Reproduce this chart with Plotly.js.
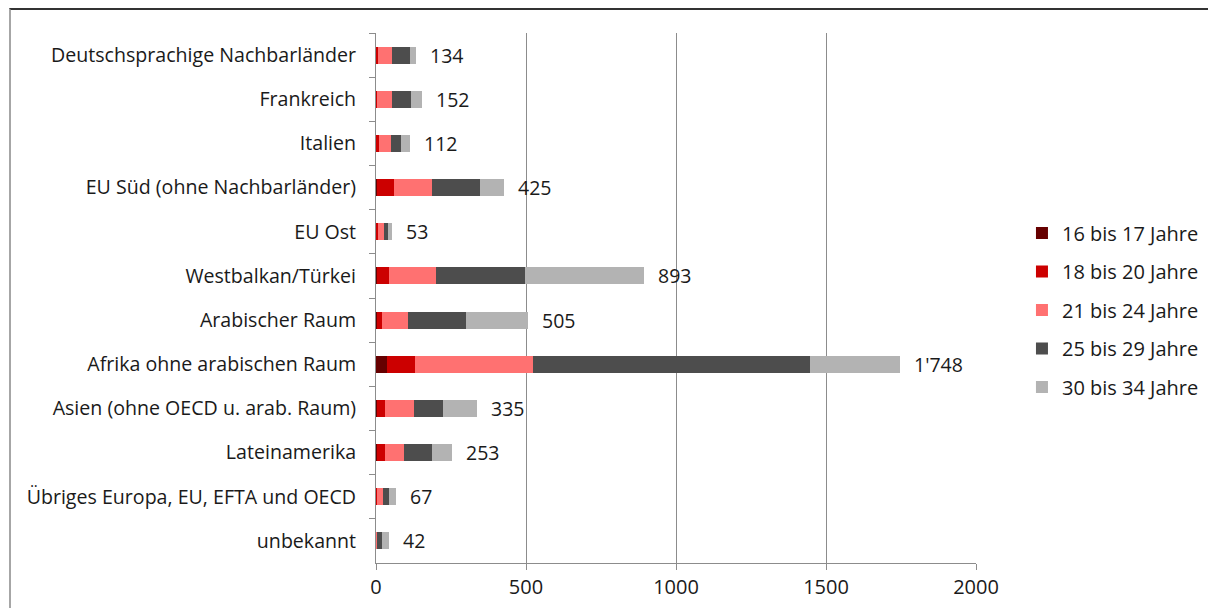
<!DOCTYPE html>
<html>
<head>
<meta charset="utf-8">
<script src="https://cdn.plot.ly/plotly-3.0.1.min.js"></script>
<style>
html,body{margin:0;padding:0;background:#fff;}
#wrap{position:relative;width:1208px;height:608px;overflow:hidden;}
#frame{position:absolute;left:9px;top:8px;width:1300px;height:700px;border-top:2px solid #333;border-left:2px solid #a6a6a6;box-sizing:border-box;pointer-events:none;}
#chart{position:absolute;left:0;top:0;width:1208px;height:608px;}
</style>
</head>
<body>
<div id="wrap">
<div id="chart"></div>
<div id="frame"></div>
</div>
<script>
const categories = [
  "Deutschsprachige Nachbarländer",
  "Frankreich",
  "Italien",
  "EU Süd (ohne Nachbarländer)",
  "EU Ost",
  "Westbalkan/Türkei",
  "Arabischer Raum",
  "Afrika ohne arabischen Raum",
  "Asien (ohne OECD u. arab. Raum)",
  "Lateinamerika",
  "Übriges Europa, EU, EFTA und OECD",
  "unbekannt"
];
const seriesNames = ["16 bis 17 Jahre","18 bis 20 Jahre","21 bis 24 Jahre","25 bis 29 Jahre","30 bis 34 Jahre"];
const age16_17 = [0, 0, 1, 3, 1, 4, 3, 35, 2, 2, 0, 0];
const age18_20 = [5, 3, 10, 57, 7, 39, 17, 95, 29, 29, 3, 1];
const age21_24 = [48, 50, 40, 127, 18, 157, 85, 393, 94, 63, 19, 2];
const age25_29 = [61, 65, 32, 160, 13, 295, 196, 925, 97, 92, 22, 17];
const age30_34 = [20, 34, 29, 78, 14, 398, 204, 300, 113, 67, 23, 22];
const totals = [134, 152, 112, 425, 53, 893, 505, 1748, 335, 253, 67, 42];
const colors = ["#660000", "#cc0000", "#ff7171", "#4d4d4d", "#b3b3b3"];
const xTicks = [0, 500, 1000, 1500, 2000];

const seriesValues = [age16_17, age18_20, age21_24, age25_29, age30_34];
const fontFam = "'Open Sans', 'Noto Sans', sans-serif";

function fmt(v){
  return String(v).replace(/\B(?=(\d{3})+(?!\d))/g, "'");
}

const traces = seriesValues.map((vals, i) => ({
  type: 'bar',
  orientation: 'h',
  name: seriesNames[i],
  y: categories,
  x: vals,
  marker: {color: colors[i], line: {width: 0}},
  legendgroup: 'g' + i,
  hoverinfo: 'x+name'
}));

const annotations = categories.map((c, i) => ({
  x: totals[i],
  y: c,
  xref: 'x',
  yref: 'y',
  text: fmt(totals[i]),
  showarrow: false,
  xanchor: 'left',
  xshift: 12,
  font: {family: fontFam, size: 19.5, color: '#1a1a1a'}
}));

const layout = {
  width: 1208,
  height: 608,
  margin: {l: 376, r: 232, t: 33, b: 45, autoexpand: false},
  paper_bgcolor: 'rgba(0,0,0,0)',
  plot_bgcolor: 'rgba(0,0,0,0)',
  barmode: 'stack',
  bargap: 0.615,
  font: {family: fontFam, size: 19.5, color: '#1a1a1a'},
  xaxis: {
    range: [0, 2000],
    tickvals: xTicks,
    ticktext: xTicks.map(String),
    showgrid: true,
    gridcolor: '#8c8c8c',
    gridwidth: 1,
    zeroline: false,
    showline: true,
    linecolor: '#8c8c8c',
    linewidth: 1,
    ticks: 'outside',
    ticklen: 6,
    tickcolor: '#8c8c8c',
    tickfont: {family: fontFam, size: 20, color: '#1a1a1a'},
    automargin: false,
    fixedrange: true
  },
  yaxis: {
    type: 'category',
    autorange: 'reversed',
    showline: true,
    linecolor: '#8c8c8c',
    linewidth: 1,
    ticks: 'outside',
    tickson: 'boundaries',
    ticklen: 6,
    tickcolor: '#8c8c8c',
    showgrid: false,
    zeroline: false,
    ticklabelstandoff: 15,
    tickfont: {family: fontFam, size: 19.6, color: '#1a1a1a'},
    automargin: false,
    fixedrange: true
  },
  legend: {
    xref: 'container',
    yref: 'container',
    x: 0.846,
    xanchor: 'left',
    y: 0.49,
    yanchor: 'middle',
    traceorder: 'grouped',
    tracegroupgap: 9.5,
    font: {family: fontFam, size: 20, color: '#1a1a1a'},
    itemwidth: 30
  },
  annotations: annotations,
  showlegend: true
};

Plotly.newPlot('chart', traces, layout, {displayModeBar: false, staticPlot: true});
</script>
</body>
</html>
